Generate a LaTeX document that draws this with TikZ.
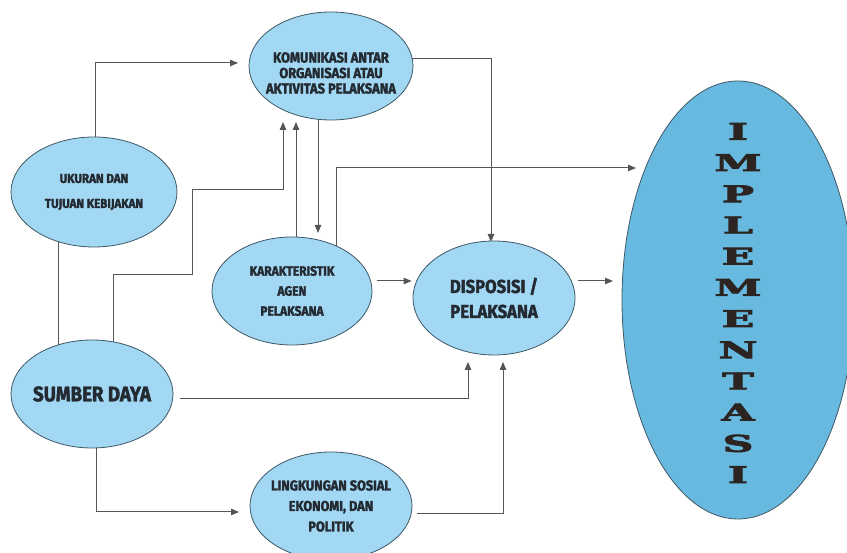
\documentclass[tikz,border=0pt]{standalone}
\usepackage{fontspec}
\usepackage{xcolor}
\usepackage{tikz}
\usetikzlibrary{positioning, arrows.meta, shapes.geometric, backgrounds}
\newfontfamily\boxfont{Fira Sans}[FakeStretch=0.89, BoldFeatures={FakeBold=2}]
\newfontfamily\bigletters{DejaVu Serif}[BoldFeatures={FakeBold=3}]
\definecolor{ovalblue}{HTML}{A2D8F3}
\definecolor{mainblue}{HTML}{67B9DF}
\definecolor{ovalborder}{HTML}{3E5866}
\definecolor{linegray}{HTML}{555555}
\definecolor{labeltext}{HTML}{232A31}
\definecolor{lettertext}{HTML}{2B2421}

\tikzset{
  oval/.style={ellipse, fill=ovalblue, draw=ovalborder, line width=0.8pt,
               inner sep=-25pt, align=center, text=labeltext,
               font=\boxfont\bfseries\fontsize{14.5}{20}\selectfont},
  bigoval/.style={oval, fill=mainblue},
  conn/.style={draw=linegray, line width=1pt},
  arr/.style={conn, -{Triangle[length=8pt,width=6.5pt]}},
}

\begin{document}
\begin{tikzpicture}[x=1pt, y=1pt]
    \useasboundingbox (0,0) rectangle (847,553);

    % factors
    \node[oval, minimum width=164pt, minimum height=108pt,
          label={[yshift=-7pt, align=center, text=labeltext,
                  font=\boxfont\bfseries\fontsize{14.5}{15.5}\selectfont]center:
                 KOMUNIKASI ANTAR\\ORGANISASI ATAU\\AKTIVITAS PELAKSANA}]
          (komunikasi) at (331,487) {};
    \node[oval, minimum width=166pt, minimum height=110pt,
          font=\boxfont\bfseries\fontsize{13}{25}\selectfont] (ukuran) at (94,361)
          {UKURAN DAN\\TUJUAN KEBIJAKAN};
    \node[oval, minimum width=160pt, minimum height=108pt,
          font=\boxfont\bfseries\fontsize{13.5}{20}\selectfont] (karakter) at (292,262)
          {KARAKTERISTIK\\AGEN\\PELAKSANA};
    \node[oval, minimum width=162pt, minimum height=108pt,
          font=\boxfont\bfseries\fontsize{21}{26}\selectfont] (sumber) at (92,159)
          {SUMBER DAYA};
    \node[oval, minimum width=162pt, minimum height=108pt,
          font=\boxfont\bfseries\fontsize{14.3}{20.5}\selectfont] (lingkungan) at (331,47)
          {LINGKUNGAN SOSIAL\\EKONOMI, DAN\\POLITIK};
    \node[oval, minimum width=162pt, minimum height=114pt,
          font=\boxfont\bfseries\fontsize{18.7}{25}\selectfont] (disposisi) at (494,255)
          {DISPOSISI /\\PELAKSANA};

    % result
    \node[bigoval, minimum width=232pt, minimum height=438pt] (implementasi) at (738,253) {};
    \node[xscale=1.85, transform shape, align=center, text=lettertext,
          font=\bigletters\bfseries\fontsize{23}{31.2}\selectfont] (huruf) at (738,250)
          {I\\M\\P\\L\\E\\M\\E\\N\\T\\A\\S\\I};

    \coordinate (sb1) at (192,278);
    \coordinate (sb2) at (283,363);

    \begin{scope}[on background layer]
      \draw[arr] ([xshift=1pt]ukuran.center) |- ([xshift=-93pt,yshift=3pt]komunikasi.center);
      \draw[conn] ([xshift=-36pt]ukuran.center) -- ([xshift=-34pt]sumber.center);
      \draw[arr] ([xshift=21pt]sumber.center) |- (sb1) |- (sb2)
                 -- ([xshift=-48pt,yshift=-56pt]komunikasi.center);
      \draw[arr] ([xshift=4pt]karakter.center) -- ([xshift=-35pt,yshift=-56pt]komunikasi.center);
      \draw[arr] ([xshift=-13pt]komunikasi.center) -- ([xshift=26pt,yshift=58pt]karakter.center);
      \draw[arr] ([xshift=44pt]karakter.center) |- ([xshift=-102pt,yshift=132pt]implementasi.center);
      \draw[arr] ([yshift=7pt]komunikasi.center) -| ([xshift=-3pt,yshift=56pt]disposisi.center);
      \draw[arr, shorten <=5pt] ([yshift=10pt]karakter.east) -- ([xshift=-1pt,yshift=17pt]disposisi.west);
      \draw[arr] ([xshift=3pt,yshift=17pt]disposisi.east) -- ([xshift=-125pt,yshift=19pt]implementasi.center);
      \draw[arr] ([xshift=7pt,yshift=-5pt]sumber.east) -| ([xshift=-26pt,yshift=-64pt]disposisi.center);
      \draw[arr] ([xshift=5pt,yshift=-8pt]lingkungan.east) -| ([xshift=9pt,yshift=-64pt]disposisi.center);
      \draw[arr] ([xshift=4pt]sumber.center) |- ([xshift=-92pt,yshift=-6pt]lingkungan.center);
    \end{scope}
\end{tikzpicture}
\end{document}
